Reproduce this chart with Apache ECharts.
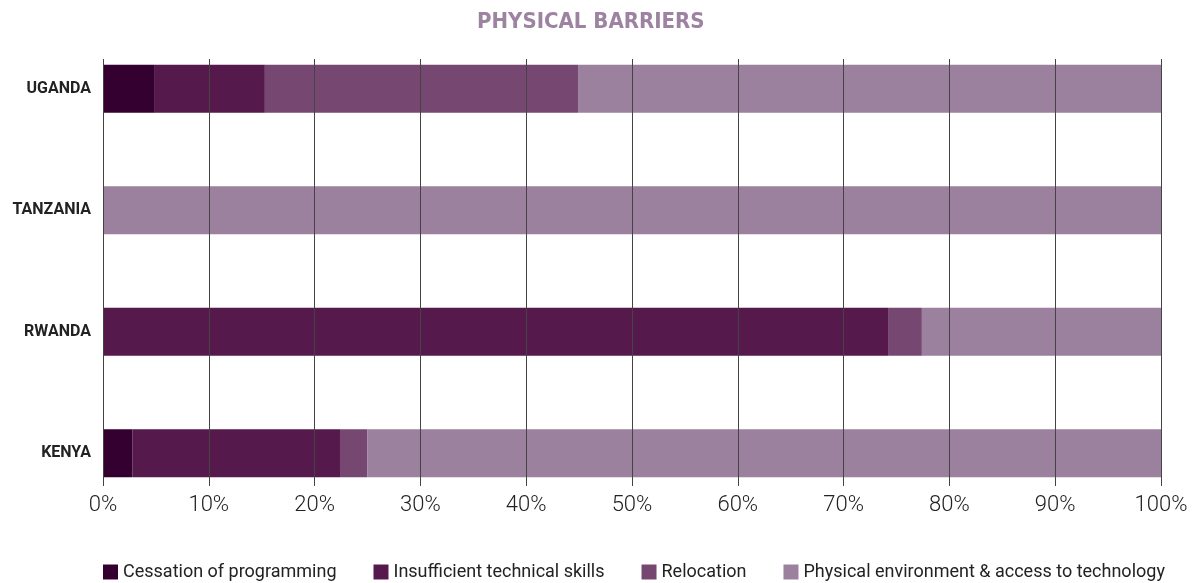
<!DOCTYPE html>
<html>
<head>
<meta charset="utf-8">
<script src="https://cdn.jsdelivr.net/npm/echarts@6/dist/echarts.min.js"></script>
<style>
  html, body { margin: 0; padding: 0; background: #fff; }
  #chart { width: 1201px; height: 583px; }
</style>
</head>
<body>
<div id="chart"></div>
<script>
// countries, bottom to top (category y axis runs upwards)
const countries = ['KENYA', 'RWANDA', 'TANZANIA', 'UGANDA'];

const cessation = [2.8, 0, 0, 4.9];
const insufficientSkills = [19.6, 74.2, 0, 10.4];
const relocation = [2.6, 3.2, 0, 29.6];
const physicalEnv = [75.0, 22.6, 100, 55.1];

const seriesNames = [
  'Cessation of programming',
  'Insufficient technical skills',
  'Relocation',
  'Physical environment & access to technology'
];
const colors = ['#33002f', '#56194c', '#764770', '#9b819d'];

const chart = echarts.init(document.getElementById('chart'));

const makeSeries = (name, data, color) => ({
  name: name,
  type: 'bar',
  stack: 'total',
  xAxisIndex: 0,
  yAxisIndex: 0,
  barWidth: 48,
  itemStyle: { color: color },
  data: data
});

const option = {
  animation: false,
  textStyle: { fontFamily: 'Roboto' },
  title: {
    text: 'PHYSICAL BARRIERS',
    left: 477,
    top: 11,
    padding: 0,
    textStyle: {
      fontFamily: '"Liberation Sans Narrow", "DejaVu Sans Condensed", Roboto',
      fontWeight: 'bold',
      fontSize: 22,
      color: '#9d83a1'
    }
  },
  legend: {
    left: 103,
    top: 563,
    padding: 0,
    itemWidth: 15,
    itemHeight: 15,
    itemGap: 37,
    icon: 'rect',
    textStyle: { fontSize: 18, color: '#222' },
    data: seriesNames
  },
  grid: [
    { left: 103, right: 40, top: 28, bottom: 69 },
    { left: 103, right: 40, top: 59, bottom: 97 }
  ],
  xAxis: [
    { gridIndex: 0, type: 'value', min: 0, max: 100, show: false },
    {
      gridIndex: 1, type: 'value', min: 0, max: 100, interval: 10, z: 10,
      axisLine: { show: false },
      axisTick: { show: false },
      splitLine: { show: true, lineStyle: { color: '#444', width: 1 } },
      axisLabel: {
        formatter: '{value}%',
        margin: 8,
        fontSize: 22,
        fontWeight: 300,
        color: '#222'
      }
    }
  ],
  yAxis: [
    {
      gridIndex: 0, type: 'category', data: countries,
      axisLine: { show: false },
      axisTick: { show: false },
      axisLabel: { margin: 12, fontSize: 16, fontWeight: 'bold', color: '#222' }
    },
    { gridIndex: 1, type: 'value', show: false, splitLine: { show: false } }
  ],
  series: [
    makeSeries(seriesNames[0], cessation, colors[0]),
    makeSeries(seriesNames[1], insufficientSkills, colors[1]),
    makeSeries(seriesNames[2], relocation, colors[2]),
    makeSeries(seriesNames[3], physicalEnv, colors[3])
  ]
};

chart.setOption(option);
</script>
</body>
</html>
